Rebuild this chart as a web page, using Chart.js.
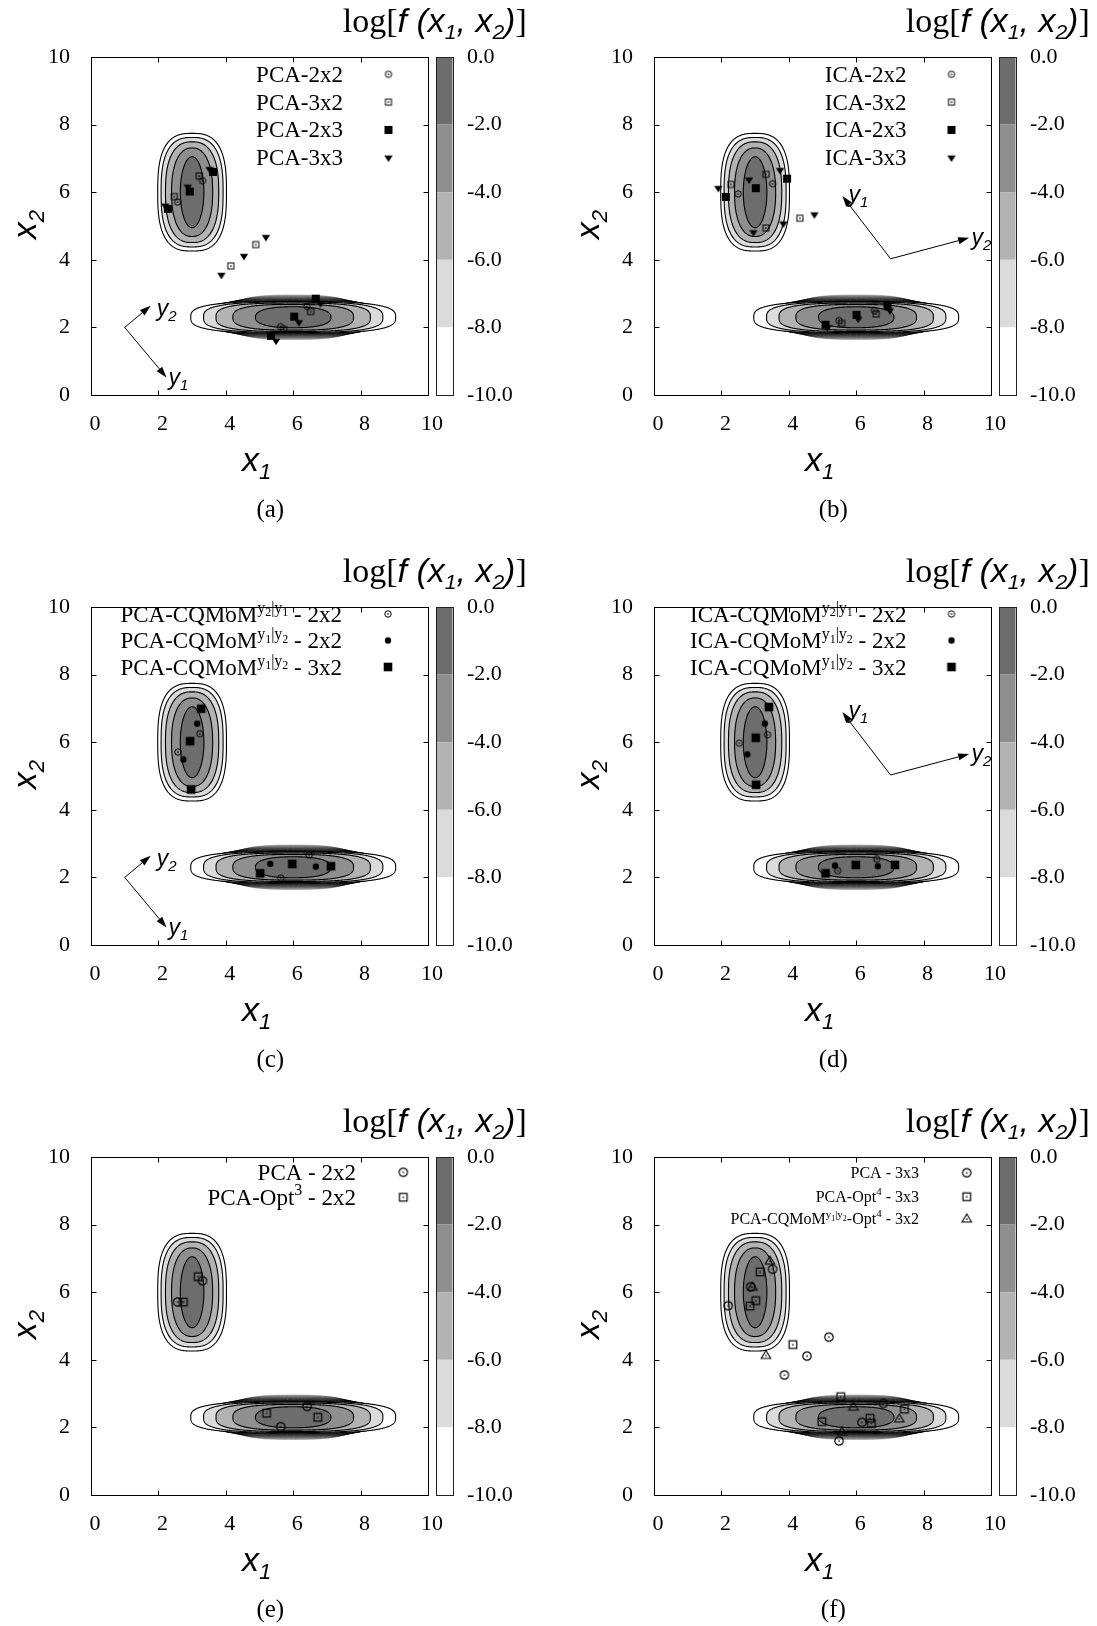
<!DOCTYPE html>
<html>
<head>
<meta charset="utf-8">
<script src="https://cdn.jsdelivr.net/npm/chart.js@4.4.1/dist/chart.umd.min.js"></script>
<style>
  html, body { margin: 0; padding: 0; background: #fff; }
  body { width: 1097px; height: 1626px; position: relative; overflow: hidden; }
  canvas { position: absolute; }
</style>
</head>
<body>
<canvas id="pa" width="534" height="526" style="left:0;top:0"></canvas>
<canvas id="pb" width="534" height="526" style="left:563px;top:0"></canvas>
<canvas id="pc" width="534" height="526" style="left:0;top:550px"></canvas>
<canvas id="pd" width="534" height="526" style="left:563px;top:550px"></canvas>
<canvas id="pe" width="534" height="526" style="left:0;top:1100px"></canvas>
<canvas id="pf" width="534" height="526" style="left:563px;top:1100px"></canvas>
<script>
const SERIF = '"Liberation Serif", "Times New Roman", serif';
const SANS = '"Liberation Sans", Arial, sans-serif';

// ---------- log f(x1,x2) contour levels and band colours ----------
const contourLevels = [-2, -4, -6, -8, -10];
const barEdges = [0, -2, -4, -6, -8, -10];
const bandColors = ['#6d6d6d', '#8f8f8f', '#b3b3b3', '#dbdbdb', '#ffffff'];

// upper mode: tall rounded contours
const upperCentre = [3.0, 6.0];
const upperHalfX = [0.35, 0.61, 0.79, 0.92, 1.02];
const upperHalfY = [1.05, 1.31, 1.49, 1.62, 1.74];
const upperPower = [2.0, 2.3, 2.5, 2.7, 2.8];

// lower mode: elongated superellipse contours
const lowerCentre = [6.0, 2.3];
const lowerHalfX = [1.12, 1.79, 2.29, 2.66, 3.04];
const lowerHalfY = [0.31, 0.38, 0.42, 0.45, 0.47];
const lowerPower = [2.4, 2.8, 3.0, 3.0, 3.0];

// levels below -10 that crowd just above/below the lower mode
const tailHalfX = [2.85, 2.76, 2.66, 2.57, 2.49, 2.40, 2.31, 2.22, 2.14, 2.05, 1.97, 1.90];
const tailHalfY = [0.482, 0.497, 0.512, 0.527, 0.543, 0.558, 0.574, 0.590, 0.606, 0.622, 0.639, 0.656];

// principal / independent component directions
const pcaOrigin = [1.0, 2.0];
const pcaY1 = [1.24, -1.48];
const pcaY2 = [0.77, 0.64];
const icaOriginB = [7.02, 4.03];
const icaOriginD = [7.02, 5.03];
const icaY1 = [-1.43, 1.86];
const icaY2 = [2.33, 0.62];

// ---------- quadrature nodes [x1, x2] ----------
const pca2x2 = [[3.31, 6.34], [2.57, 5.71], [6.41, 2.62], [5.63, 2.02]];
const pca3x2 = [[3.21, 6.48], [2.47, 5.87], [4.15, 3.82], [4.89, 4.45], [6.52, 2.47], [5.72, 1.94]];
const pca2x3 = [[3.62, 6.60], [2.93, 6.02], [2.28, 5.51], [6.67, 2.85], [6.03, 2.32], [5.34, 1.75]];
const pca3x3 = [[3.52, 6.68], [2.87, 6.16], [2.20, 5.60], [3.87, 3.55], [4.54, 4.11], [5.19, 4.67], [6.81, 2.71], [6.17, 2.15], [5.49, 1.60]];

const ica2x2 = [[3.52, 6.25], [2.50, 5.95], [5.49, 2.20], [6.54, 2.50]];
const ica3x2 = [[3.32, 6.53], [2.28, 6.23], [3.32, 4.94], [4.33, 5.23], [5.57, 2.12], [6.59, 2.40]];
const ica2x3 = [[3.95, 6.40], [3.02, 6.12], [2.13, 5.86], [5.09, 2.08], [6.01, 2.37], [6.93, 2.63]];
const ica3x3 = [[3.74, 6.65], [2.82, 6.37], [1.91, 6.12], [3.84, 5.07], [2.95, 4.81], [4.76, 5.34], [5.15, 2.00], [6.06, 2.25], [7.00, 2.50]];

const pcaCq21_2x2 = [[3.23, 6.25], [2.58, 5.71], [6.47, 2.66], [5.63, 1.98]];
const pcaCq12_2x2 = [[3.15, 6.55], [2.74, 5.49], [5.32, 2.40], [6.67, 2.32]];
const pcaCq12_3x2 = [[3.27, 6.99], [2.94, 6.03], [2.97, 4.60], [5.97, 2.40], [7.12, 2.33], [5.02, 2.12]];

const icaCq21_2x2 = [[3.37, 6.22], [2.53, 5.97], [6.61, 2.54], [5.45, 2.20]];
const icaCq12_2x2 = [[3.29, 6.55], [2.77, 5.64], [5.37, 2.35], [6.64, 2.33]];
const icaCq12_3x2 = [[3.41, 7.04], [3.02, 6.13], [3.03, 4.74], [5.99, 2.37], [7.15, 2.37], [5.09, 2.12]];

const pcaOpt3_2x2 = [[3.18, 6.46], [2.74, 5.71], [5.21, 2.42], [6.73, 2.30]];
const pcaOpt4_3x3 = [[3.15, 6.60], [3.02, 5.75], [2.85, 5.59], [4.12, 4.45], [5.54, 2.91], [4.98, 2.17], [6.41, 2.27], [6.45, 2.12], [7.43, 2.54]];
const pcaCqOpt4_3x2 = [[3.44, 6.92], [2.92, 6.15], [3.32, 4.13], [5.92, 2.60], [7.28, 2.25], [5.58, 1.87]];

// ---------- marker glyphs ----------
function marker(kind, s, lw) {
  const n = 2 * Math.ceil(s) + 4;
  const c = document.createElement('canvas');
  c.width = c.height = n;
  const g = c.getContext('2d');
  const m = n / 2;
  g.strokeStyle = '#000';
  g.fillStyle = '#000';
  g.lineWidth = lw || 1;
  const dot = () => { g.beginPath(); g.arc(m, m, 0.85, 0, 2 * Math.PI); g.fill(); };
  if (kind === 'circDot') {
    g.beginPath(); g.arc(m, m, s, 0, 2 * Math.PI); g.stroke(); dot();
  } else if (kind === 'sqDot') {
    g.strokeRect(m - s, m - s, 2 * s, 2 * s); dot();
  } else if (kind === 'sq') {
    g.fillRect(m - s, m - s, 2 * s, 2 * s);
  } else if (kind === 'dot') {
    g.beginPath(); g.arc(m, m, s, 0, 2 * Math.PI); g.fill();
  } else if (kind === 'triDown') {
    g.beginPath(); g.moveTo(m - s, m - 0.55 * s); g.lineTo(m + s, m - 0.55 * s); g.lineTo(m, m + s); g.closePath(); g.fill();
  } else if (kind === 'triDot') {
    g.beginPath(); g.moveTo(m, m - s); g.lineTo(m + 0.95 * s, m + 0.6 * s); g.lineTo(m - 0.95 * s, m + 0.6 * s); g.closePath(); g.stroke(); dot();
  }
  return c;
}

const mkSmallCirc = marker('circDot', 3.2, 1);
const mkSmallSq = marker('sqDot', 3.0, 1);
const mkFillSq = marker('sq', 4.0);
const mkFillSqC = marker('sq', 4.3);
const mkTriDown = marker('triDown', 4.2);
const mkDot = marker('dot', 3.2);
const mkBigCirc = marker('circDot', 4.2, 1.2);
const mkBigSq = marker('sqDot', 3.8, 1.2);
const mkTri = marker('triDot', 5.0, 1.1);

// ---------- text helpers ----------
const T = (t, size, dy, style) => ({ t, f: (style ? style + ' ' : '') + size + 'px ' + SERIF, dy: dy || 0 });
const S = (t, size, dy) => ({ t, f: 'italic ' + size + 'px ' + SANS, dy: dy || 0 });

function rich(ctx, parts, x, y, align) {
  const widths = parts.map(p => { ctx.font = p.f; return ctx.measureText(p.t).width; });
  const total = widths.reduce((a, b) => a + b, 0);
  let cx = align === 'right' ? x - total : align === 'center' ? x - total / 2 : x;
  ctx.textAlign = 'left';
  ctx.textBaseline = 'alphabetic';
  ctx.fillStyle = '#000';
  parts.forEach((p, i) => { ctx.font = p.f; ctx.fillText(p.t, cx, y + p.dy); cx += widths[i]; });
}

const titleParts = [T('log[', 34), S('f', 34), S(' (', 34), S('x', 34), S('1', 21, 7), S(', ', 34), S('x', 34), S('2', 21, 7), S(')', 34), T(']', 34)];
const x1Parts = [S('x', 34), S('1', 22, 8)];
const x2Parts = [S('x', 34), S('2', 22, 8)];

const cqSup = (a, b, big, small, dyA, dyB) => [T('y', big, dyA), T(a, small, dyB), T('|', big, dyA), T('y', big, dyA), T(b, small, dyB)];

// ---------- panel layout ----------
const panels = {
  pa: {
    caption: '(a)', arrows: { origin: pcaOrigin, y1: pcaY1, y2: pcaY2, off1: [2, 7.5], off2: [6, 10] },
    legend: { right: 252, mark: 297.5, rows: [17.3, 45.1, 72.9, 100.7], size: 23, items: [
      [[T('PCA-2x2', 23)], mkSmallCirc], [[T('PCA-3x2', 23)], mkSmallSq], [[T('PCA-2x3', 23)], mkFillSq], [[T('PCA-3x3', 23)], mkTriDown]] }
  },
  pb: {
    caption: '(b)', arrows: { origin: icaOriginB, y1: icaY1, y2: icaY2, off1: [6, 6], off2: [2.5, 7] },
    legend: { right: 252.5, mark: 297.5, rows: [17.3, 45.1, 72.9, 100.7], size: 23, items: [
      [[T('ICA-2x2', 23)], mkSmallCirc], [[T('ICA-3x2', 23)], mkSmallSq], [[T('ICA-2x3', 23)], mkFillSq], [[T('ICA-3x3', 23)], mkTriDown]] }
  },
  pc: {
    caption: '(c)', arrows: { origin: pcaOrigin, y1: pcaY1, y2: pcaY2, off1: [2, 7.5], off2: [6, 10] },
    legend: { right: 251, mark: 297, rows: [7, 33.5, 60], size: 23, items: [
      [[T('PCA-CQMoM', 23), ...cqSup('2', '1', 16, 12, -9, -5.5), T(' - 2x2', 23)], mkSmallCirc],
      [[T('PCA-CQMoM', 23), ...cqSup('1', '2', 16, 12, -9, -5.5), T(' - 2x2', 23)], mkDot],
      [[T('PCA-CQMoM', 23), ...cqSup('1', '2', 16, 12, -9, -5.5), T(' - 3x2', 23)], mkFillSqC]] }
  },
  pd: {
    caption: '(d)', arrows: { origin: icaOriginD, y1: icaY1, y2: icaY2, off1: [6, 6], off2: [2.5, 7] },
    legend: { right: 252.5, mark: 297.5, rows: [7, 33.5, 60], size: 23, items: [
      [[T('ICA-CQMoM', 23), ...cqSup('2', '1', 16, 12, -9, -5.5), T(' - 2x2', 23)], mkSmallCirc],
      [[T('ICA-CQMoM', 23), ...cqSup('1', '2', 16, 12, -9, -5.5), T(' - 2x2', 23)], mkDot],
      [[T('ICA-CQMoM', 23), ...cqSup('1', '2', 16, 12, -9, -5.5), T(' - 3x2', 23)], mkFillSqC]] }
  },
  pe: {
    caption: '(e)', arrows: null,
    legend: { right: 265, mark: 312.3, rows: [15.3, 40.3], size: 23, items: [
      [[T('PCA - 2x2', 23)], mkBigCirc],
      [[T('PCA-Opt', 23), T('3', 16, -10), T(' - 2x2', 23)], mkBigSq]] }
  },
  pf: {
    caption: '(f)', arrows: null,
    legend: { right: 265, mark: 312.7, rows: [15.7, 39.7, 62], size: 16, items: [
      [[T('PCA - 3x3', 16)], mkBigCirc],
      [[T('PCA-Opt', 16), T('4', 11, -7), T(' - 3x3', 16)], mkBigSq],
      [[T('PCA-CQMoM', 16), ...cqSup('1', '2', 11, 8, -6, -3.5), T('-Opt', 16), T('4', 11, -7), T(' - 3x2', 16)], mkTri]] }
  }
};

// ---------- contour geometry through the chart scales ----------
function superContour(sx, sy, cx, cy, ax, ay, p) {
  const pts = [], e = 2 / p;
  for (let k = 0; k < 360; k++) {
    const t = k / 360 * 2 * Math.PI, c = Math.cos(t), s = Math.sin(t);
    pts.push([sx.getPixelForValue(cx + ax * Math.sign(c) * Math.pow(Math.abs(c), e)),
              sy.getPixelForValue(cy + ay * Math.sign(s) * Math.pow(Math.abs(s), e))]);
  }
  return pts;
}
const upperContour = (sx, sy, i) => superContour(sx, sy, upperCentre[0], upperCentre[1], upperHalfX[i], upperHalfY[i], upperPower[i]);
const lowerContour = (sx, sy, i) => superContour(sx, sy, lowerCentre[0], lowerCentre[1], lowerHalfX[i], lowerHalfY[i], lowerPower[i]);

function tracePath(ctx, pts) {
  ctx.beginPath();
  pts.forEach(([px, py], i) => (i ? ctx.lineTo(px, py) : ctx.moveTo(px, py)));
  ctx.closePath();
}

function drawArrow(ctx, x0, y0, x1, y1) {
  const ang = Math.atan2(y1 - y0, x1 - x0), L = 11, W = 3.6;
  const bx = x1 - L * Math.cos(ang), by = y1 - L * Math.sin(ang);
  ctx.beginPath(); ctx.moveTo(x0, y0); ctx.lineTo(bx, by); ctx.stroke();
  ctx.beginPath();
  ctx.moveTo(x1, y1);
  ctx.lineTo(bx - W * Math.sin(ang), by + W * Math.cos(ang));
  ctx.lineTo(bx + W * Math.sin(ang), by - W * Math.cos(ang));
  ctx.closePath(); ctx.fill();
}

const densityPlugin = {
  id: 'density',
  beforeDatasetsDraw(chart) {
    const { ctx, chartArea: a } = chart;
    const sx = chart.scales.x, sy = chart.scales.y;
    const cfg = panels[chart.canvas.id];
    ctx.save();
    ctx.beginPath(); ctx.rect(a.left, a.top, a.width, a.height); ctx.clip();

    // crowded tail levels of the narrow lower mode
    ctx.lineWidth = 0.9;
    tailHalfX.forEach((ax, k) => {
      ctx.strokeStyle = 'rgba(0,0,0,' + (0.85 - 0.05 * k).toFixed(3) + ')';
      tracePath(ctx, superContour(sx, sy, lowerCentre[0], lowerCentre[1], ax, tailHalfY[k], 3));
      ctx.stroke();
    });

    // filled bands, outermost first
    for (let i = contourLevels.length - 1; i >= 0; i--) {
      ctx.fillStyle = bandColors[i];
      tracePath(ctx, upperContour(sx, sy, i)); ctx.fill();
      tracePath(ctx, lowerContour(sx, sy, i)); ctx.fill();
    }
    // contour lines
    ctx.strokeStyle = '#000'; ctx.lineWidth = 1.1;
    for (let i = 0; i < contourLevels.length; i++) {
      tracePath(ctx, upperContour(sx, sy, i)); ctx.stroke();
      tracePath(ctx, lowerContour(sx, sy, i)); ctx.stroke();
    }
    ctx.restore();

    // component directions
    if (cfg.arrows) {
      const ar = cfg.arrows;
      const ox = sx.getPixelForValue(ar.origin[0]), oy = sy.getPixelForValue(ar.origin[1]);
      ctx.save();
      ctx.strokeStyle = '#000'; ctx.fillStyle = '#000'; ctx.lineWidth = 1;
      [[ar.y1, '1', ar.off1], [ar.y2, '2', ar.off2]].forEach(([v, n, off]) => {
        const tx = sx.getPixelForValue(ar.origin[0] + v[0]), ty = sy.getPixelForValue(ar.origin[1] + v[1]);
        drawArrow(ctx, ox, oy, tx, ty);
        rich(ctx, [S('y', 23), S(n, 15, 5)], tx + off[0], ty + off[1], 'left');
      });
      ctx.restore();
    }

    // frame and inward ticks
    ctx.save();
    ctx.strokeStyle = '#000'; ctx.lineWidth = 1;
    const L = Math.round(a.left) + 0.5, R = Math.round(a.right) + 0.5, Tp = Math.round(a.top) + 0.5, B = Math.round(a.bottom) + 0.5;
    ctx.strokeRect(L, Tp, R - L, B - Tp);
    ctx.beginPath();
    sx.ticks.forEach(t => {
      const px = Math.round(sx.getPixelForValue(t.value)) + 0.5;
      ctx.moveTo(px, B); ctx.lineTo(px, B - 5); ctx.moveTo(px, Tp); ctx.lineTo(px, Tp + 5);
    });
    sy.ticks.forEach(t => {
      const py = Math.round(sy.getPixelForValue(t.value)) + 0.5;
      ctx.moveTo(L, py); ctx.lineTo(L + 5, py); ctx.moveTo(R, py); ctx.lineTo(R - 5, py);
    });
    ctx.stroke();
    ctx.restore();
  },
  afterDraw(chart) {
    const { ctx, chartArea: a } = chart;
    const cb = chart.scales.cb;
    const cfg = panels[chart.canvas.id];
    ctx.save();

    // colour bar
    const bx = a.right + 8, bw = 16.5;
    for (let i = 0; i < bandColors.length; i++) {
      const y0 = cb.getPixelForValue(barEdges[i]), y1 = cb.getPixelForValue(barEdges[i + 1]);
      ctx.fillStyle = bandColors[i];
      ctx.fillRect(bx, y0, bw, y1 - y0);
    }
    ctx.strokeStyle = '#222'; ctx.lineWidth = 1;
    ctx.strokeRect(Math.round(bx) + 0.5, Math.round(cb.top) + 0.5, Math.round(bw), Math.round(cb.bottom - cb.top));

    // key
    const lg = cfg.legend;
    lg.items.forEach(([parts, img], i) => {
      const ry = a.top + lg.rows[i];
      rich(ctx, parts, a.left + lg.right, ry + 0.33 * lg.size, 'right');
      ctx.drawImage(img, a.left + lg.mark - img.width / 2, ry - img.height / 2);
    });

    // colour-bar title, axis titles and caption
    rich(ctx, titleParts, a.right + 98.7, a.top - 25.5, 'right');
    rich(ctx, x1Parts, a.left + 165.5, a.bottom + 76, 'center');
    ctx.save();
    ctx.translate(a.left - 55, a.top + 167.6);
    ctx.rotate(-Math.PI / 2);
    rich(ctx, x2Parts, 0, 0, 'center');
    ctx.restore();
    rich(ctx, [T(cfg.caption, 25)], a.left + 179.3, a.bottom + 122, 'center');
    ctx.restore();
  }
};

const tickFont = { family: SERIF, size: 22 };
const pts = arr => arr.map(([x, y]) => ({ x, y }));
const ds = (label, arr, img) => ({ label, data: pts(arr), pointStyle: img, pointRadius: 4, pointHoverRadius: 4 });

function makeChart(id, datasets) {
  return new Chart(document.getElementById(id), {
    type: 'scatter',
    data: { datasets },
    options: {
      responsive: false,
      animation: false,
      events: [],
      layout: { padding: { top: 57, left: 0, right: 0, bottom: 0 } },
      plugins: { legend: { display: false }, tooltip: { enabled: false } },
      scales: {
        x: {
          type: 'linear', position: 'bottom', min: 0, max: 10,
          ticks: { stepSize: 2, padding: 16, labelOffset: 4, color: '#000', font: tickFont, autoSkip: false, maxRotation: 0 },
          grid: { display: false, drawTicks: false }, border: { display: false },
          afterFit(s) { s.height = 131; }
        },
        y: {
          type: 'linear', position: 'left', min: 0, max: 10,
          ticks: { stepSize: 2, padding: 21, color: '#000', font: tickFont },
          grid: { display: false, drawTicks: false }, border: { display: false },
          afterFit(s) { s.width = 91; }
        },
        cb: {
          type: 'linear', position: 'right', min: -10, max: 0,
          ticks: { stepSize: 2, padding: 39, color: '#000', font: tickFont, callback: v => v.toFixed(1) },
          grid: { display: false, drawTicks: false }, border: { display: false },
          afterFit(s) { s.width = 106; }
        }
      }
    },
    plugins: [densityPlugin]
  });
}

makeChart('pa', [ds('PCA-2x2', pca2x2, mkSmallCirc), ds('PCA-3x2', pca3x2, mkSmallSq), ds('PCA-2x3', pca2x3, mkFillSq), ds('PCA-3x3', pca3x3, mkTriDown)]);
makeChart('pb', [ds('ICA-2x2', ica2x2, mkSmallCirc), ds('ICA-3x2', ica3x2, mkSmallSq), ds('ICA-2x3', ica2x3, mkFillSq), ds('ICA-3x3', ica3x3, mkTriDown)]);
makeChart('pc', [ds('PCA-CQMoM y2|y1 - 2x2', pcaCq21_2x2, mkSmallCirc), ds('PCA-CQMoM y1|y2 - 2x2', pcaCq12_2x2, mkDot), ds('PCA-CQMoM y1|y2 - 3x2', pcaCq12_3x2, mkFillSqC)]);
makeChart('pd', [ds('ICA-CQMoM y2|y1 - 2x2', icaCq21_2x2, mkSmallCirc), ds('ICA-CQMoM y1|y2 - 2x2', icaCq12_2x2, mkDot), ds('ICA-CQMoM y1|y2 - 3x2', icaCq12_3x2, mkFillSqC)]);
makeChart('pe', [ds('PCA - 2x2', pca2x2, mkBigCirc), ds('PCA-Opt3 - 2x2', pcaOpt3_2x2, mkBigSq)]);
makeChart('pf', [ds('PCA - 3x3', pca3x3, mkBigCirc), ds('PCA-Opt4 - 3x3', pcaOpt4_3x3, mkBigSq), ds('PCA-CQMoM y1|y2-Opt4 - 3x2', pcaCqOpt4_3x2, mkTri)]);
</script>
</body>
</html>
